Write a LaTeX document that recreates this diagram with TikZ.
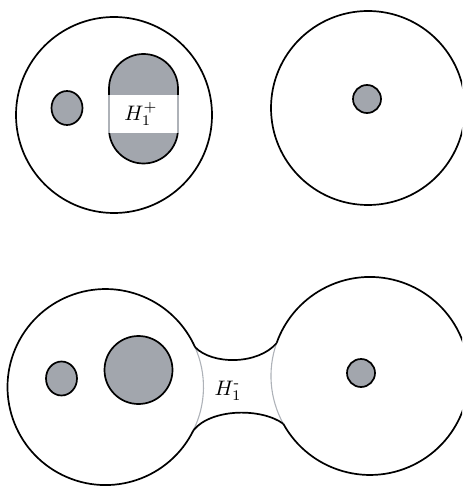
\documentclass[tikz,border=0pt]{standalone}
\usepackage{amsmath}
\definecolor{shade}{HTML}{A2A6AD}
\definecolor{seamgrey}{HTML}{AEB2B8}
\begin{document}
\begin{tikzpicture}[x=1pt,y=-1pt,
  rim/.style={draw=black, line width=1.7pt},
  blob/.style={fill=shade, draw=black, line width=1.7pt},
  seam/.style={draw=seamgrey, line width=1.1pt},
  lab/.style={inner sep=0pt}]
\useasboundingbox (0,0) rectangle (462,486);
\clip (0,0) rectangle (462,486);
% top left
\draw[rim] (114,115) circle[radius=98];
\draw[blob] (67,108) ellipse[x radius=15.5, y radius=17];
\draw[blob] (109,88.5) arc[start angle=180,end angle=360,radius=34.5] -- (178,129) arc[start angle=0,end angle=180,radius=34.5] -- cycle;
\fill[white] (107,95) rectangle (180,133);
\draw[seam] (109,95) -- (109,133) (178,95) -- (178,133);
\node[lab] (hp) at (141,114) {\scalebox{2.1}{$H_1^+$}};
% top right
\draw[rim] (368,108) circle[radius=97];
\draw[blob] (367,99) circle[radius=14];
% bottom
\coordinate (LT) at (195.0,347.1);
\coordinate (LB) at (193.6,430.0);
\coordinate (RT) at (276.7,343.0);
\coordinate (RB) at (283.3,423.8);
\draw[rim] (LB) arc[start angle=26,end angle=336,radius=98];
\draw[seam] (LT) arc[start angle=-24,end angle=26,radius=98];
\draw[rim] (RB) arc[start angle=151.1,end angle=-160.5,radius=99];
\draw[seam] (RB) arc[start angle=151.1,end angle=199.5,radius=99];
\draw[rim] (LT) .. controls (212,365) and (258,365) .. (RT);
\draw[rim] (LB) .. controls (212,408) and (262,408) .. (RB);
\draw[blob] (61.5,378.5) ellipse[x radius=15.5, y radius=17];
\draw[blob] (138.5,370) circle[radius=34];
\draw[blob] (361,373) circle[radius=14];
\node[lab] (hm) at (228,391) {\scalebox{2.1}{$H_1^{\text{-}}$}};
\end{tikzpicture}
\end{document}
